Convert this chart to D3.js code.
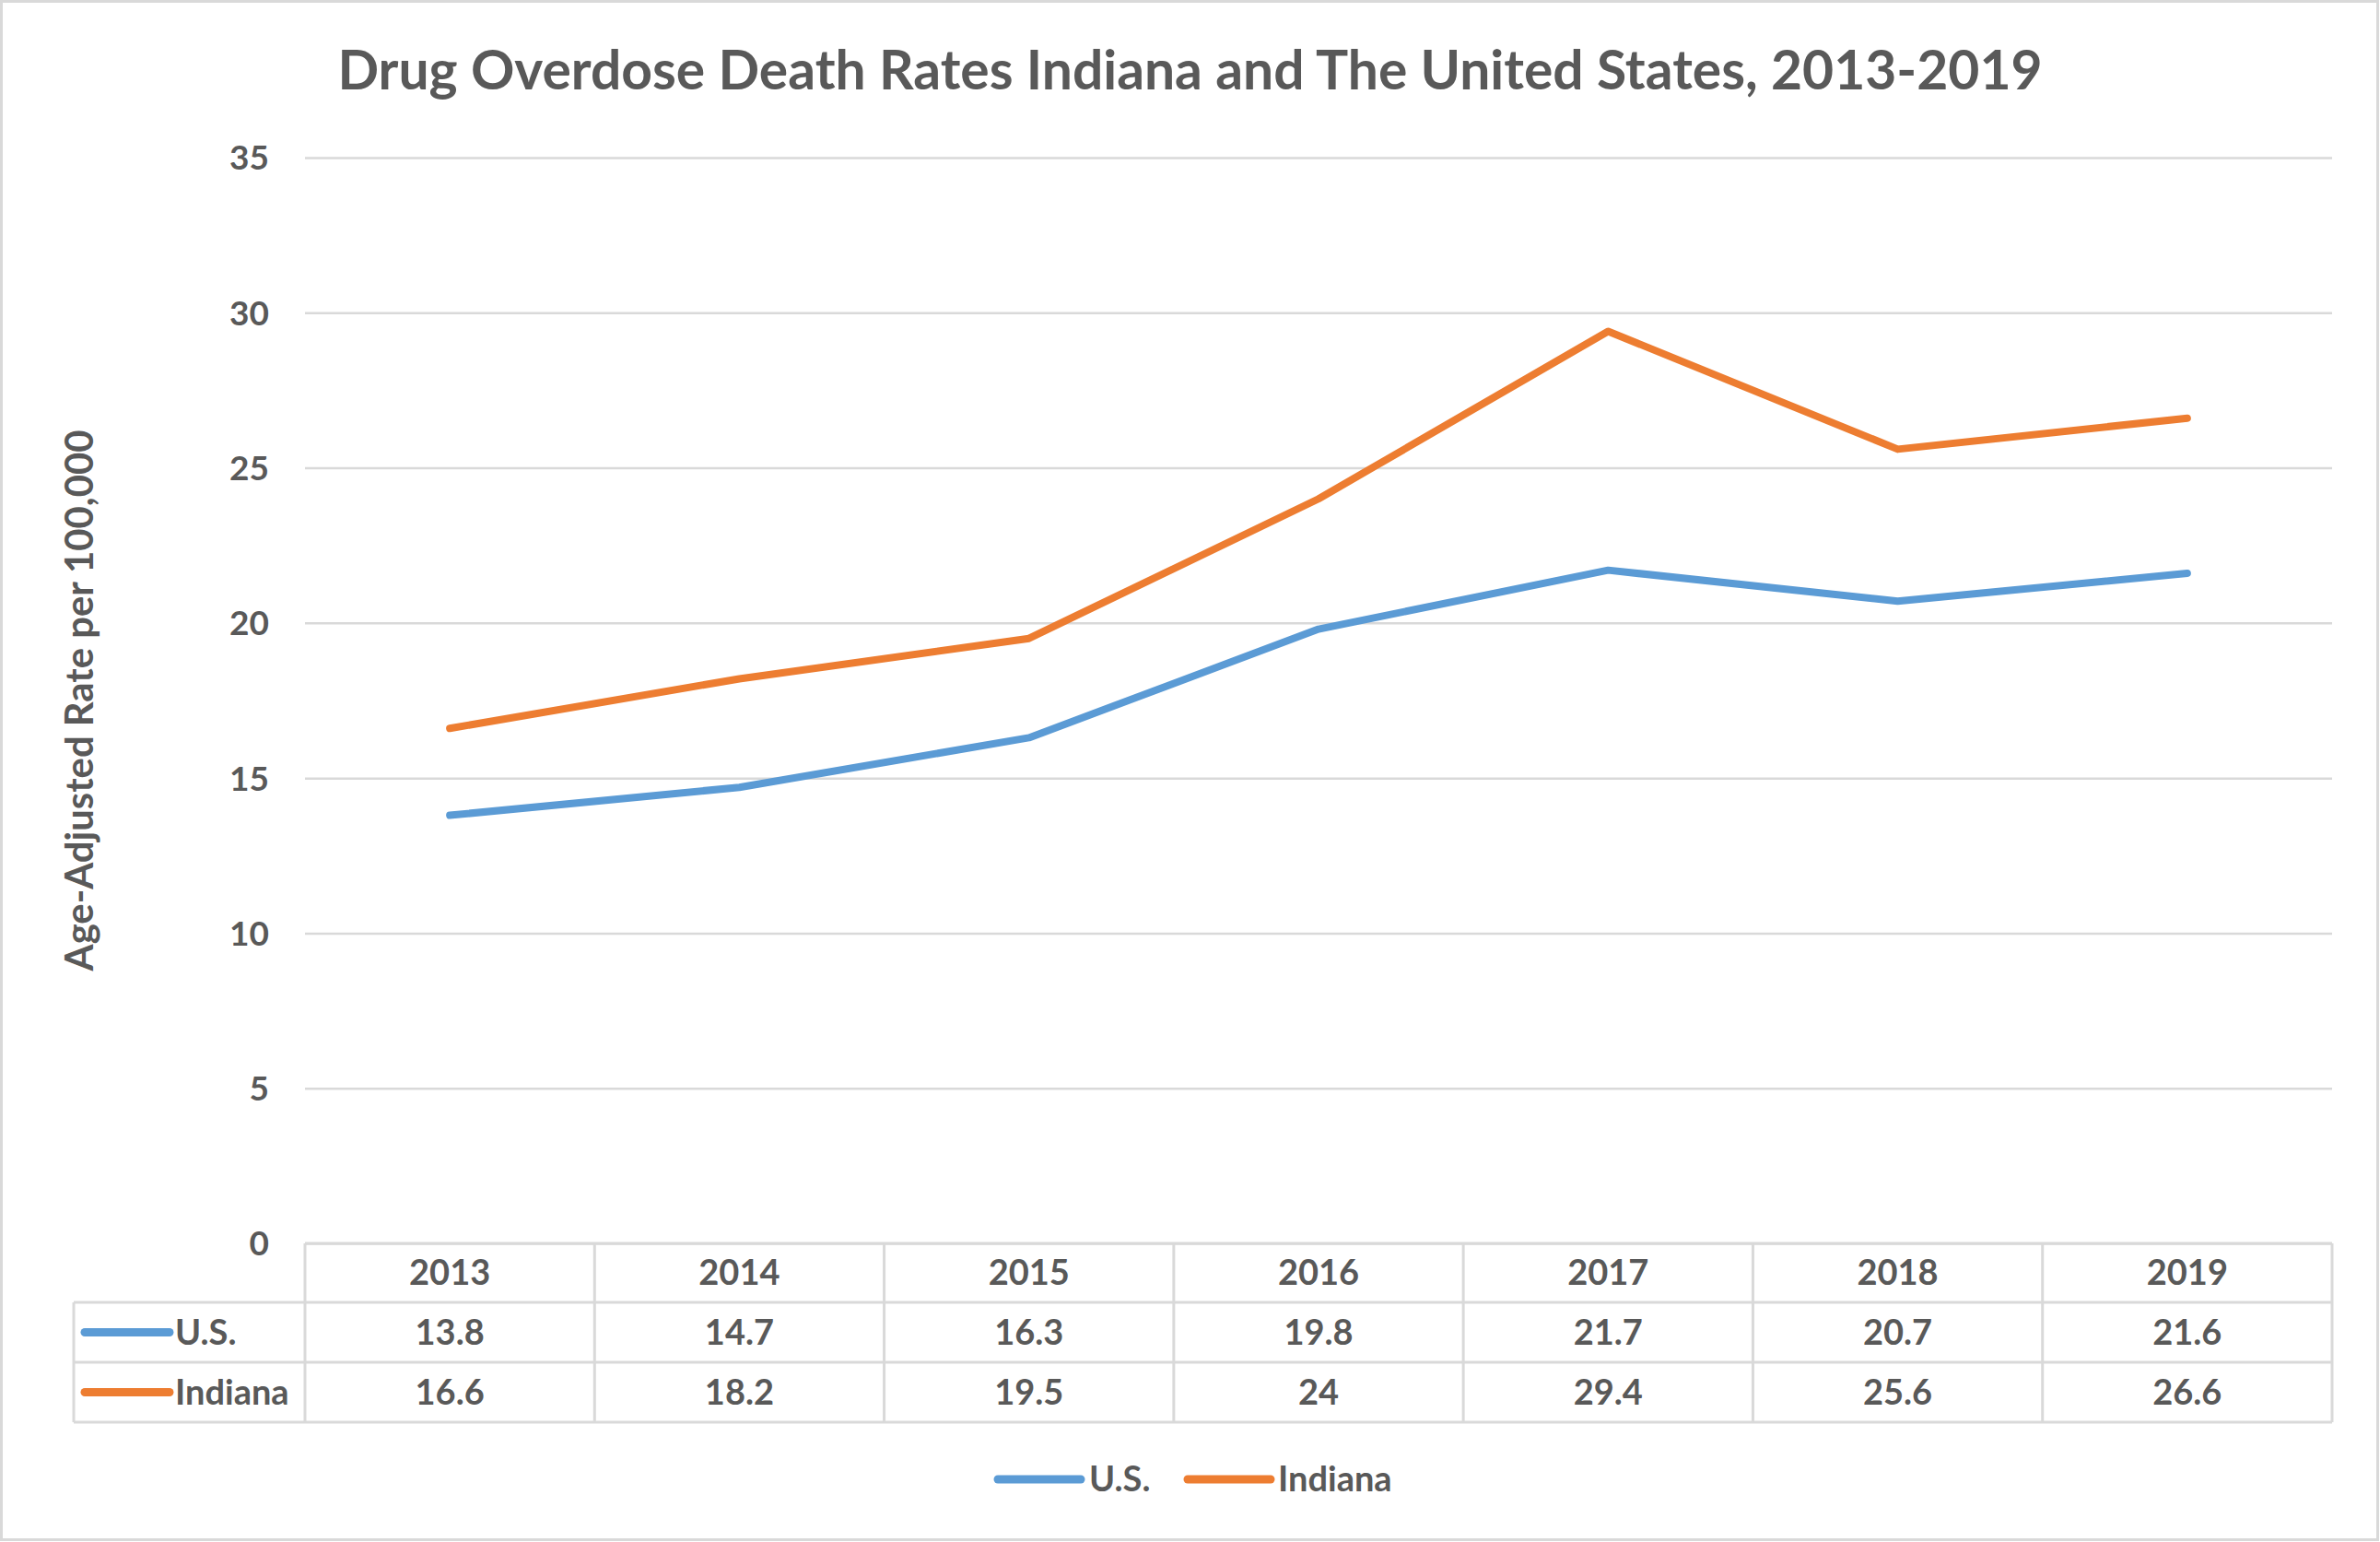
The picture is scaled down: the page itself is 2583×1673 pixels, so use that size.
<!DOCTYPE html>
<html><head><meta charset="utf-8">
<script src="https://cdn.jsdelivr.net/npm/d3@7"></script>
<style>
html,body{margin:0;padding:0;background:#fff;}
svg text{font-family:Lato,"Open Sans",sans-serif;font-weight:bold;fill:#595959;}
</style></head>
<body><svg id="c" width="2583" height="1673"></svg>
<script>
const years = ["2013","2014","2015","2016","2017","2018","2019"];
const usValues = [13.8,14.7,16.3,19.8,21.7,20.7,21.6];
const indianaValues = [16.6,18.2,19.5,24,29.4,25.6,26.6];
const seriesNames = ["U.S.","Indiana"];
const seriesColors = ["#5b9bd5","#ed7d31"];
const yTicks = [0,5,10,15,20,25,30,35];
const titleText = "Drug Overdose Death Rates Indiana and The United States, 2013-2019";
const yLabelText = "Age-Adjusted Rate per 100,000";

const series = [
  {name: seriesNames[0], color: seriesColors[0], values: usValues},
  {name: seriesNames[1], color: seriesColors[1], values: indianaValues}
];

const W = 2583, H = 1673;
const svg = d3.select("#c");
const grid = "#d9d9d9";

function fit(sel, target, maxSize){
  let fs = maxSize;
  sel.style("font-size", fs + "px");
  const len = sel.node().getComputedTextLength();
  fs = fs * target / len;
  sel.style("font-size", fs + "px");
  return fs;
}

// outer border
svg.append("rect").attr("x",1.5).attr("y",1.5).attr("width",W-4).attr("height",H-4)
  .attr("fill","#fff").attr("stroke",grid).attr("stroke-width",3);

const x = d3.scaleBand().domain(years).range([331,2531]).padding(0);
const y = d3.scaleLinear().domain([0,35]).range([1349,171]);

// title
const t = svg.append("text").attr("x",1291.5).attr("y",97).attr("text-anchor","middle").text(titleText);
fit(t, 1851, 60);

// gridlines
const yAxis = d3.axisLeft(y).tickValues(yTicks).tickSize(-(2531-331)).tickPadding(40);
const gAxis = svg.append("g").attr("transform","translate(331,0)").call(yAxis);
gAxis.select(".domain").remove();
gAxis.selectAll(".tick line").attr("stroke",grid).attr("stroke-width",2.5);
gAxis.selectAll(".tick text").attr("fill","#595959").style("font-size","37px")
  .style("font-family","Lato, sans-serif").style("font-weight","bold")
  .attr("x", -39).attr("dy","0.35em");

// y label
const yl = svg.append("text").attr("transform","translate(101,760) rotate(-90)")
  .attr("text-anchor","middle").text(yLabelText);
fit(yl, 587, 40);

// lines
const line = d3.line().x((d,i)=>x(years[i])+x.bandwidth()/2).y(d=>y(d));
series.forEach(s=>{
  svg.append("path").attr("d", line(s.values)).attr("fill","none")
    .attr("stroke", s.color).attr("stroke-width",8).attr("stroke-linejoin","round").attr("stroke-linecap","round");
});

// data table
const rowTops = [1349,1413,1478,1543];
const tableLeft = 80, plotLeft = 331, plotRight = 2531;
const tg = svg.append("g");
tg.append("line").attr("x1",plotLeft).attr("x2",plotRight).attr("y1",rowTops[0]).attr("y2",rowTops[0]);
[1,2,3].forEach(i=>{
  tg.append("line").attr("x1",tableLeft).attr("x2",plotRight).attr("y1",rowTops[i]).attr("y2",rowTops[i]);
});
years.forEach((yr,i)=>{
  tg.append("line").attr("x1",x(yr)).attr("x2",x(yr)).attr("y1",rowTops[0]).attr("y2",rowTops[3]);
});
tg.append("line").attr("x1",plotRight).attr("x2",plotRight).attr("y1",rowTops[0]).attr("y2",rowTops[3]);
tg.append("line").attr("x1",tableLeft).attr("x2",tableLeft).attr("y1",rowTops[1]).attr("y2",rowTops[3]);
tg.selectAll("line").attr("stroke",grid).attr("stroke-width",3);

const cellFont = "38px";
years.forEach(yr=>{
  tg.append("text").attr("x",x(yr)+x.bandwidth()/2).attr("y",(rowTops[0]+rowTops[1])/2)
    .attr("dy","0.35em").attr("text-anchor","middle").style("font-size",cellFont).text(yr);
});
series.forEach((s,si)=>{
  const cy = (rowTops[si+1]+rowTops[si+2])/2;
  s.values.forEach((v,i)=>{
    tg.append("text").attr("x",x(years[i])+x.bandwidth()/2).attr("y",cy)
      .attr("dy","0.35em").attr("text-anchor","middle").style("font-size",cellFont).text(String(v));
  });
  tg.append("line").attr("x1",92).attr("x2",184).attr("y1",cy).attr("y2",cy)
    .attr("stroke",s.color).attr("stroke-width",9).attr("stroke-linecap","round");
  tg.append("text").attr("x",190).attr("y",cy).attr("dy","0.35em").style("font-size",cellFont).text(s.name);
});

// bottom legend
const legendItems = [{x:1083, tx:1182},{x:1289, tx:1387}];
series.forEach((s,i)=>{
  const li = legendItems[i];
  svg.append("line").attr("x1",li.x).attr("x2",li.x+90).attr("y1",1605).attr("y2",1605)
    .attr("stroke",s.color).attr("stroke-width",9).attr("stroke-linecap","round");
  svg.append("text").attr("x",li.tx).attr("y",1605).attr("dy","0.35em").style("font-size","38px").text(s.name);
});
</script></body></html>
